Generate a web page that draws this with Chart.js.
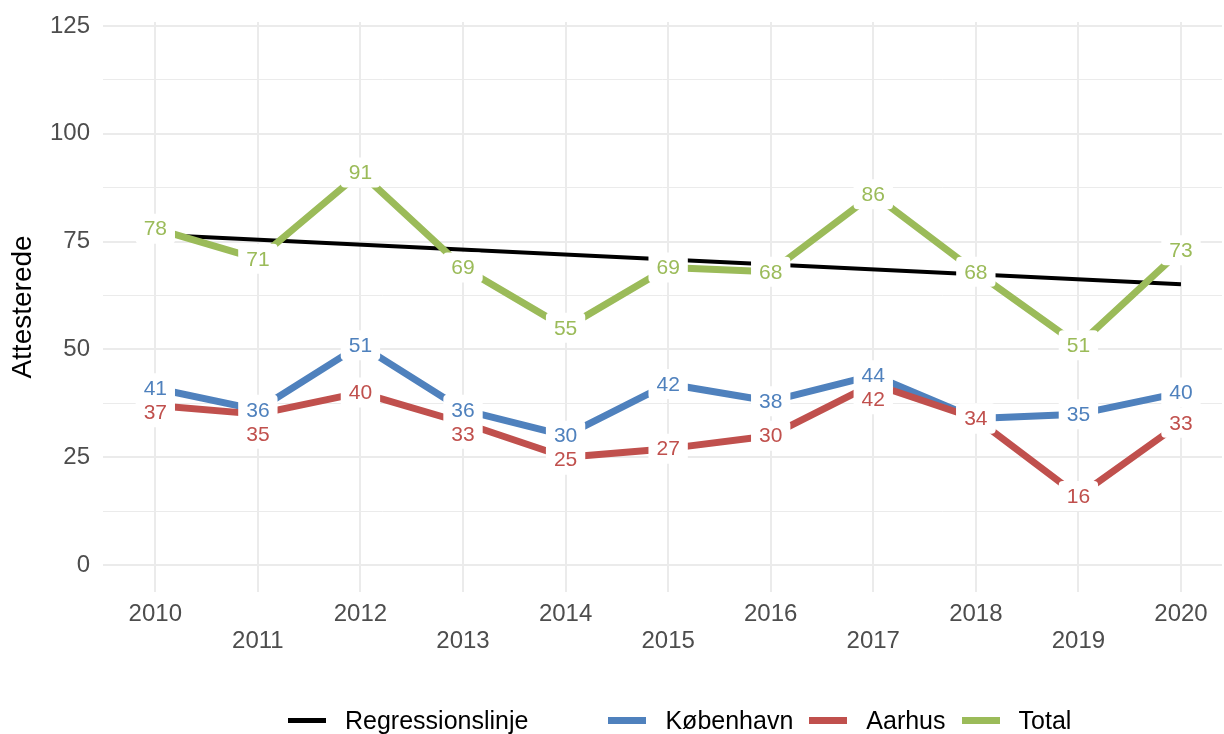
<!DOCTYPE html>
<html>
<head>
<meta charset="utf-8">
<script src="https://cdn.jsdelivr.net/npm/chart.js@4.4.0/dist/chart.umd.min.js"></script>
<style>
    body { margin: 0; background: #fff; font-family: "Liberation Sans", Arial, sans-serif; }
    .wrap { position: relative; width: 1224px; height: 734px; }
    .legend { position: absolute; left: 288px; top: 706px; height: 28px; display: flex; align-items: center; font-size: 25px; color: #000; }
    .legend-item { display: flex; align-items: center; margin-right: 16px; }
    .legend-item.group-end { margin-right: 80px; }
    .swatch { width: 38px; margin-right: 19px; }
</style>
</head>
<body>
<div class="wrap">
    <canvas id="chart" width="1224" height="734"></canvas>
    <div class="legend" id="legend"></div>
</div>
<script>
// 데이터
const years = [2010, 2011, 2012, 2013, 2014, 2015, 2016, 2017, 2018, 2019, 2020];
const kobenhavn = [41, 36, 51, 36, 30, 42, 38, 44, 34, 35, 40];
const aarhus = [37, 35, 40, 33, 25, 27, 30, 42, 34, 16, 33];
const total = [78, 71, 91, 69, 55, 69, 68, 86, 68, 51, 73];
// regressionslinje, aflæst ved 2010 og 2020
const regressionYears = [2010, 2020];
const regression = [76.6, 65.1];
const yTicks = [0, 25, 50, 75, 100, 125];

const FONT = '"Liberation Sans", Arial, sans-serif';

const toPoints = (xs, ys) => xs.map((x, i) => ({ x: x, y: ys[i] }));

// tal i hvide bokse oven på linjerne, skubbes ned hvis de rammer et andet tal
const pointLabels = {
    id: 'pointLabels',
    afterDatasetsDraw(chart) {
        const ctx = chart.ctx;
        const minGap = 24;
        const placed = [];
        ctx.save();
        ctx.font = '21px ' + FONT;
        ctx.textAlign = 'center';
        ctx.textBaseline = 'middle';
        chart.data.datasets.forEach((ds, di) => {
            if (!ds.showLabels) return;
            const meta = chart.getDatasetMeta(di);
            meta.data.forEach((pt, i) => {
                const text = String(ds.data[i].y);
                const w = ctx.measureText(text).width + 16;
                const h = 30;
                let y = pt.y;
                placed.forEach(p => {
                    const dy = y - p.y;
                    if (Math.abs(pt.x - p.x) < w && dy !== 0 && Math.abs(dy) < minGap) {
                        y = p.y + minGap;
                    }
                });
                placed.push({ x: pt.x, y: y });
                ctx.fillStyle = '#ffffff';
                ctx.beginPath();
                ctx.roundRect(pt.x - w / 2, y - h / 2, w, h, 4);
                ctx.fill();
                ctx.fillStyle = ds.borderColor;
                ctx.fillText(text, pt.x, y + 1);
            });
        });
        ctx.restore();
    }
};

const lineStyle = {
    pointRadius: 0,
    tension: 0,
    fill: false,
    borderCapStyle: 'butt',
    borderJoinStyle: 'round'
};

const chart = new Chart(document.getElementById('chart').getContext('2d'), {
    type: 'line',
    data: {
        datasets: [
            { label: 'København', data: toPoints(years, kobenhavn), borderColor: '#4f81bd', borderWidth: 7, showLabels: true, order: 3, ...lineStyle },
            { label: 'Aarhus', data: toPoints(years, aarhus), borderColor: '#c0504d', borderWidth: 7, showLabels: true, order: 2, ...lineStyle },
            { label: 'Total', data: toPoints(years, total), borderColor: '#9bbb59', borderWidth: 7, showLabels: true, order: 1, ...lineStyle },
            { label: 'Regressionslinje', data: toPoints(regressionYears, regression), borderColor: '#000000', borderWidth: 4, showLabels: false, order: 10, ...lineStyle }
        ]
    },
    options: {
        responsive: false,
        animation: false,
        devicePixelRatio: 1,
        layout: { padding: { top: 22, right: 2, bottom: 41, left: 0 } },
        plugins: {
            legend: { display: false },
            tooltip: { enabled: false }
        },
        scales: {
            x: {
                type: 'linear',
                min: 2009.49,
                max: 2020.4,
                border: { display: false },
                grid: {
                    drawTicks: false,
                    color: (c) => Number.isInteger(c.tick.value) ? '#ebebeb' : 'rgba(0,0,0,0)',
                    lineWidth: 2
                },
                ticks: {
                    stepSize: 1,
                    includeBounds: false,
                    autoSkip: false,
                    maxRotation: 0,
                    padding: 9,
                    color: '#4d4d4d',
                    font: { family: FONT, size: 24, lineHeight: 1.13 },
                    // ulige år på anden linje
                    callback: (v) => {
                        if (!years.includes(v)) return '';
                        return v % 2 === 0 ? String(v) : ['', String(v)];
                    }
                },
                afterFit: (scale) => {
                    scale.height = 101;
                    scale.paddingLeft = 0;
                    scale.paddingRight = 0;
                }
            },
            y: {
                min: -6.24,
                max: 125.92,
                border: { display: false },
                grid: {
                    drawTicks: false,
                    color: '#ebebeb',
                    lineWidth: (c) => yTicks.includes(c.tick.value) ? 2 : 1
                },
                ticks: {
                    stepSize: 12.5,
                    includeBounds: false,
                    padding: 13,
                    color: '#4d4d4d',
                    font: { family: FONT, size: 24 },
                    callback: (v) => yTicks.includes(v) ? String(v) : ''
                },
                title: {
                    display: true,
                    text: 'Attesterede',
                    color: '#000000',
                    font: { family: FONT, size: 28 },
                    padding: { top: 6, bottom: 0 }
                },
                afterFit: (scale) => {
                    scale.width = 103;
                    scale.paddingTop = 0;
                    scale.paddingBottom = 0;
                }
            }
        }
    },
    plugins: [pointLabels]
});

// legende: regressionslinje for sig, byerne samlet
const legendOrder = ['Regressionslinje', 'København', 'Aarhus', 'Total'];
const legendEl = document.getElementById('legend');
legendOrder.forEach((name, i) => {
    const ds = chart.data.datasets.find(d => d.label === name);
    const item = document.createElement('div');
    item.className = 'legend-item' + (i === 0 ? ' group-end' : '');
    const swatch = document.createElement('div');
    swatch.className = 'swatch';
    swatch.style.height = (name === 'Regressionslinje' ? 5 : 7) + 'px';
    swatch.style.background = ds.borderColor;
    const label = document.createElement('span');
    label.textContent = name;
    item.appendChild(swatch);
    item.appendChild(label);
    legendEl.appendChild(item);
});
</script>
</body>
</html>
